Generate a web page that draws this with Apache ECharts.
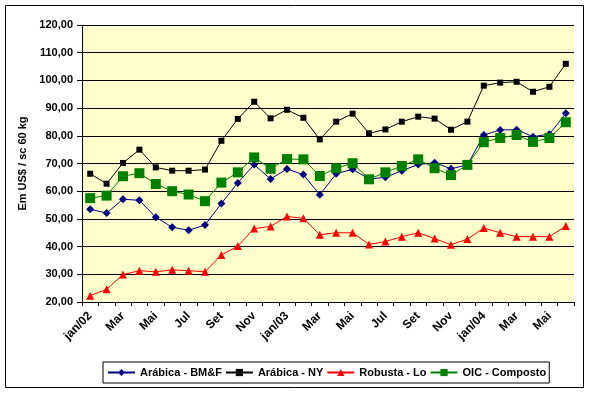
<!DOCTYPE html>
<html>
<head>
<meta charset="utf-8">
<script src="https://cdn.jsdelivr.net/npm/echarts@6/dist/echarts.min.js"></script>
<style>
html,body{margin:0;padding:0;background:#fff;}
#c{width:590px;height:393px;}
</style>
</head>
<body>
<div id="c"></div>
<script>
const categories = ['jan/02','Fev','Mar','Abr','Mai','Jun','Jul','Ago','Set','Out','Nov','Dez',
  'jan/03','Fev','Mar','Abr','Mai','Jun','Jul','Ago','Set','Out','Nov','Dez',
  'jan/04','Fev','Mar','Abr','Mai','Jun'];
const arabicaBMF = [53.5,52.1,57.1,56.7,50.6,47.0,45.9,47.8,55.6,63.0,69.6,64.4,
  68.0,66.0,58.7,66.3,67.9,64.4,65.0,67.4,69.6,70.3,68.1,69.5,
  80.3,82.1,82.2,79.7,80.6,88.1];
const arabicaNY = [66.3,62.7,70.2,75.0,68.6,67.4,67.4,67.8,78.2,86.1,92.3,86.3,
  89.4,86.5,78.7,85.1,88.0,80.9,82.3,85.1,86.9,86.2,82.2,85.1,
  98.1,99.2,99.5,95.9,97.7,106.0];
const robustaLo = [22.3,24.6,29.9,31.3,30.9,31.6,31.3,30.9,37.0,40.2,46.5,47.3,
  50.9,50.2,44.3,45.0,45.0,40.8,41.8,43.6,45.0,42.9,40.7,42.7,
  46.7,45.0,43.6,43.6,43.6,47.4];
const oicComposto = [57.5,58.4,65.4,66.5,62.6,60.0,58.8,56.4,63.1,66.8,72.2,68.1,
  71.6,71.5,65.5,68.3,70.1,64.3,66.8,69.1,71.5,68.3,65.8,69.5,
  77.7,79.2,80.3,77.8,79.2,84.9];
const seriesNames = ['Arábica - BM&F','Arábica - NY','Robusta - Lo','OIC - Composto'];
const yAxisName = 'Em US$ / sc 60 kg';

const font = 'Arial, "Liberation Sans", sans-serif';
const chart = echarts.init(document.getElementById('c'), null, {renderer:'canvas'});
function mk(name, data, color, symbol, size){
  return {name, type:'line', data, symbol, symbolSize:size, showSymbol:true,
    lineStyle:{color, width:1}, itemStyle:{color, borderWidth:0},
    animation:false, emphasis:{disabled:true}};
}
chart.setOption({
  backgroundColor:'#ffffff',
  animation:false,
  graphic:[{type:'rect', shape:{x:5.5,y:5.5,width:578,height:382},
    style:{fill:'none', stroke:'#000', lineWidth:1}, silent:true, z:-10}],
  grid:{left:82, right:16, top:25, bottom:91, show:true, backgroundColor:'#FFFFCC', borderWidth:0},
  legend:{
    left:103, top:362, padding:[5,3,5,4],
    borderColor:'#000', borderWidth:1,
    itemWidth:27, itemHeight:9, itemGap:3,
    textStyle:{fontFamily:font, fontWeight:'bold', fontSize:11, color:'#000'},
    data:seriesNames
  },
  xAxis:{
    type:'category', data:categories, boundaryGap:true,
    axisLine:{lineStyle:{color:'#000', width:1}},
    axisTick:{show:true, interval:0, length:4, lineStyle:{color:'#000'}},
    axisLabel:{interval:1, rotate:45, margin:12, color:'#000',
      fontFamily:font, fontWeight:'bold', fontSize:12},
    splitLine:{show:false}
  },
  yAxis:{
    type:'value', min:20, max:120, interval:10,
    name:yAxisName, nameLocation:'middle', nameRotate:90, nameGap:46,
    nameTextStyle:{fontFamily:font, fontWeight:'bold', fontSize:11, color:'#000'},
    axisLine:{show:true, lineStyle:{color:'#000', width:1}},
    axisTick:{show:true, inside:false, length:5, lineStyle:{color:'#000'}},
    axisLabel:{margin:9, color:'#000', fontFamily:font, fontWeight:'bold', fontSize:11,
      formatter:v=>v.toFixed(2).replace('.',',')},
    splitLine:{show:true, lineStyle:{color:'#000', width:1}}
  },
  series:[
    mk(seriesNames[0], arabicaBMF, '#000080', 'diamond', 8),
    mk(seriesNames[1], arabicaNY, '#000000', 'rect', 6),
    mk(seriesNames[2], robustaLo, '#FF0000', 'triangle', 8),
    mk(seriesNames[3], oicComposto, '#008000', 'rect', 10)
  ]
});
</script>
</body>
</html>
